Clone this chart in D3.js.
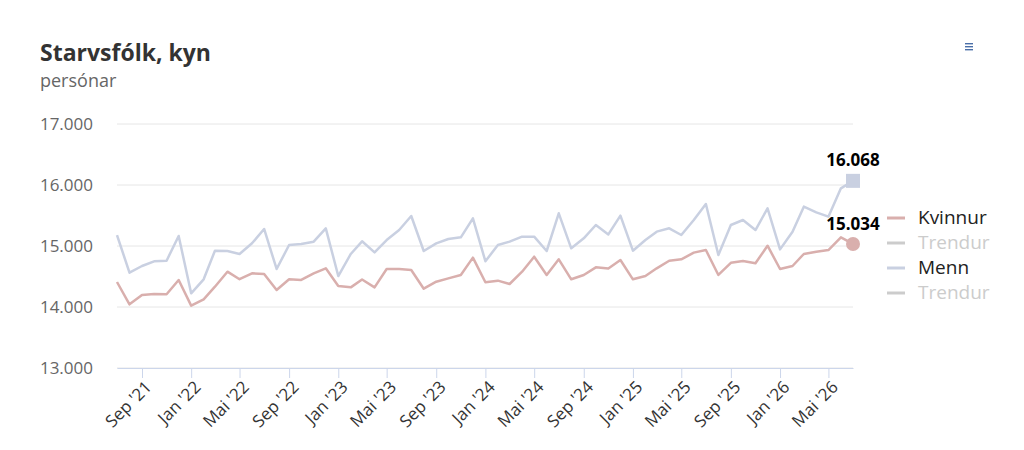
<!DOCTYPE html>
<html lang="fo">
<head>
<meta charset="UTF-8">
<title>Starvsfólk, kyn</title>
<script src="https://d3js.org/d3.v7.min.js"></script>
<style>
    body { margin: 0; background: #fff; font-family: "Open Sans", "Noto Sans", sans-serif; }
    #chart { width: 1024px; height: 450px; }
</style>
</head>
<body>
<div id="chart"></div>
<script>
// monthly data, Jul '21 .. Jul '26
const startMonth = new Date(2021, 6, 1);
const women = [
    14410, 14044, 14197, 14213, 14208, 14443, 14022, 14126, 14333, 14579,
    14455, 14552, 14541, 14279, 14454, 14443, 14552, 14634, 14344, 14322,
    14450, 14322, 14623, 14623, 14607, 14300, 14415, 14470, 14525, 14809,
    14405, 14432, 14377, 14579, 14825, 14525, 14781, 14454, 14525, 14650,
    14630, 14770, 14454, 14508, 14634, 14759, 14781, 14891, 14934, 14525,
    14725, 14754, 14716, 15005, 14623, 14672, 14869, 14907, 14934, 15142,
    15034
];
const men = [
    15180, 14562, 14672, 14749, 14759, 15164, 14224, 14454, 14923, 14918,
    14870, 15044, 15279, 14623, 15016, 15033, 15071, 15290, 14508, 14869,
    15077, 14896, 15098, 15262, 15492, 14918, 15044, 15115, 15142, 15454,
    14750, 15016, 15071, 15153, 15153, 14918, 15536, 14962, 15126, 15344,
    15190, 15497, 14923, 15098, 15235, 15290, 15180, 15426, 15689, 14852,
    15344, 15426, 15262, 15617, 14945, 15235, 15645, 15552, 15481, 15945,
    16068
];
const yTicks = [13000, 14000, 15000, 16000, 17000];
const tickLabels = ["Sep '21", "Jan '22", "Mai '22", "Sep '22", "Jan '23", "Mai '23", "Sep '23",
    "Jan '24", "Mai '24", "Sep '24", "Jan '25", "Mai '25", "Sep '25", "Jan '26", "Mai '26"];
const legendItems = [
    { name: "Kvinnur", color: "#d9afad", hidden: false },
    { name: "Trendur", color: "#cccccc", hidden: true },
    { name: "Menn", color: "#c9d0e1", hidden: false },
    { name: "Trendur", color: "#cccccc", hidden: true }
];

const womenColor = "#d9afad";
const menColor = "#c9d0e1";

const width = 1024, height = 450;
const margin = { left: 117, right: 171, top: 124, bottom: 82 };

const months = women.map((d, i) => d3.timeMonth.offset(startMonth, i));
const tickMonths = tickLabels.map((d, i) => d3.timeMonth.offset(startMonth, 2 + 4 * i));

const locale = d3.formatLocale({ decimal: ",", thousands: ".", grouping: [3], currency: ["", ""] });
const fmt = locale.format(",");

const svg = d3.select("#chart").append("svg")
    .attr("width", width)
    .attr("height", height);

const x = d3.scaleTime()
    .domain([months[0], months[months.length - 1]])
    .range([margin.left, width - margin.right]);

const y = d3.scaleLinear()
    .domain([13000, 17000])
    .range([height - margin.bottom, margin.top]);

// title
svg.append("text")
    .attr("x", 40).attr("y", 61)
    .attr("font-size", "23px").attr("font-weight", "bold")
    .attr("fill", "#333")
    .text("Starvsfólk, kyn");
svg.append("text")
    .attr("x", 40).attr("y", 87)
    .attr("font-size", "18px")
    .attr("fill", "#666")
    .text("persónar");

// menu icon
[0, 3, 6].forEach(dy => {
    svg.append("rect")
        .attr("x", 965).attr("y", 43 + dy)
        .attr("width", 8).attr("height", 1.4)
        .attr("fill", "#4a6fa8");
});

// gridlines + y labels
svg.append("g")
    .selectAll("line")
    .data(yTicks)
    .enter().append("line")
    .attr("x1", margin.left).attr("x2", width - margin.right)
    .attr("y1", d => y(d)).attr("y2", d => y(d))
    .attr("stroke", "#e6e6e6").attr("stroke-width", 1);

svg.append("g")
    .selectAll("text")
    .data(yTicks)
    .enter().append("text")
    .attr("x", 93).attr("y", d => y(d) + 6)
    .attr("text-anchor", "end")
    .attr("font-size", "17px")
    .attr("fill", "#666")
    .text(d => fmt(d));

// x axis
const xAxis = svg.append("g")
    .attr("transform", `translate(0,${y(13000)})`)
    .call(d3.axisBottom(x).tickValues(tickMonths).tickSize(10).tickSizeOuter(0)
        .tickFormat((d, i) => tickLabels[i]));
xAxis.select(".domain").attr("stroke", "#ccd6eb");
xAxis.selectAll(".tick line").attr("stroke", "#ccd6eb");
xAxis.selectAll(".tick text")
    .attr("font-family", "Open Sans, Noto Sans, sans-serif")
    .attr("font-size", "17px")
    .attr("fill", "#333")
    .attr("text-anchor", "end")
    .attr("dy", null)
    .attr("transform", "translate(1,11) rotate(-45)");

// lines
const line = d3.line()
    .x((d, i) => x(months[i]))
    .y(d => y(d));

svg.append("path")
    .datum(men)
    .attr("d", line)
    .attr("fill", "none")
    .attr("stroke", menColor)
    .attr("stroke-width", 2.5)
    .attr("stroke-linejoin", "round");

svg.append("path")
    .datum(women)
    .attr("d", line)
    .attr("fill", "none")
    .attr("stroke", womenColor)
    .attr("stroke-width", 2.5)
    .attr("stroke-linejoin", "round");

// end markers and labels
const last = months.length - 1;
svg.append("rect")
    .attr("x", x(months[last]) - 7).attr("y", y(men[last]) - 7)
    .attr("width", 14).attr("height", 14)
    .attr("fill", menColor);
svg.append("circle")
    .attr("cx", x(months[last])).attr("cy", y(women[last]))
    .attr("r", 7)
    .attr("fill", womenColor);

[[men[last], 166], [women[last], 230]].forEach(([v, ly]) => {
    svg.append("text")
        .attr("x", x(months[last])).attr("y", ly)
        .attr("text-anchor", "middle")
        .attr("font-size", "17px").attr("font-weight", "bold")
        .attr("fill", "#000")
        .text(fmt(v));
});

// legend
const legend = svg.append("g").attr("transform", "translate(887,218)");
legendItems.forEach((d, i) => {
    const g = legend.append("g").attr("transform", `translate(0,${i * 25})`);
    g.append("line")
        .attr("x1", 0).attr("x2", 18)
        .attr("y1", 0).attr("y2", 0)
        .attr("stroke", d.color).attr("stroke-width", 3);
    g.append("text")
        .attr("x", 31).attr("y", 6)
        .attr("font-size", "19px")
        .attr("fill", d.hidden ? "#cccccc" : "#222")
        .text(d.name);
});
</script>
</body>
</html>
